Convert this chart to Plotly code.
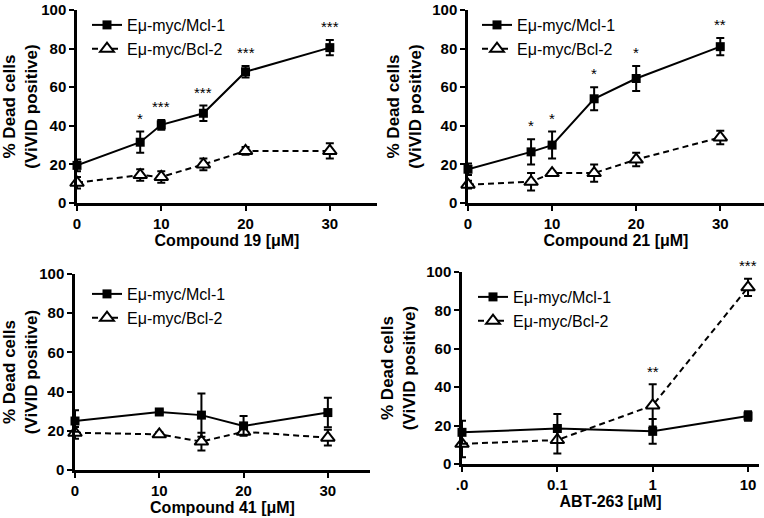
import math
import plotly.graph_objects as go

W, H = 764, 518

# ---------------- data ----------------
c19_x = [0, 7.5, 10, 15, 20, 30]
c19_mcl = [19.5, 31.5, 40.5, 46.5, 68, 80.5]
c19_mcl_err = [3, 5.5, 2.5, 4, 3, 4]
c19_bcl = [10.5, 14.5, 13.5, 20, 27, 27]
c19_bcl_err = [3, 3, 3, 3, 2, 4]
c19_stars = ["*", "***", "***", "***", "***"]
c19_star_x = [7.5, 10, 15, 20, 30]

c21_x = [0, 7.5, 10, 15, 20, 30]
c21_mcl = [17.5, 26.5, 30, 54, 64.5, 81]
c21_mcl_err = [3, 6.5, 7, 6, 6.5, 4.5]
c21_bcl = [9.5, 11, 15.5, 15.5, 22.5, 34]
c21_bcl_err = [2, 4.5, 1, 4.5, 3.5, 3.5]
c21_stars = ["*", "*", "*", "*", "**"]
c21_star_x = [7.5, 10, 15, 20, 30]

c41_x = [0, 10, 15, 20, 30]
c41_mcl = [25, 29.6, 28, 22.5, 29.3]
c41_mcl_err = [5.5, 1, 11, 5, 7.5]
c41_bcl = [19, 18.2, 14.5, 19.5, 16.5]
c41_bcl_err = [3, 1, 4.5, 1.5, 4]

abt_x = [0.01, 0.1, 1, 10]
abt_xlabels = [".0", "0.1", "1", "10"]
abt_mcl = [16.5, 18.5, 17, 25]
abt_mcl_err = [6, 7.5, 6.5, 2.5]
abt_bcl = [10.5, 12.5, 30.5, 92]
abt_bcl_err = [7, 7, 11, 4.5]
abt_stars = ["**", "***"]
abt_star_x = [1, 10]
abt_star_y = [42.5, 98]

series_names = ["Eμ-myc/Mcl-1", "Eμ-myc/Bcl-2"]
x_titles = ["Compound 19 [μM]", "Compound 21 [μM]", "Compound 41 [μM]", "ABT-263 [μM]"]
y_title = "% Dead cells<br>(ViVID positive)"
y_ticks = [0, 20, 40, 60, 80, 100]

FONT = "Liberation Sans, Arial, sans-serif"

fig = go.Figure()

panels = [
    (c19_x, c19_mcl, c19_mcl_err, c19_bcl, c19_bcl_err),
    (c21_x, c21_mcl, c21_mcl_err, c21_bcl, c21_bcl_err),
    (c41_x, c41_mcl, c41_mcl_err, c41_bcl, c41_bcl_err),
    (abt_x, abt_mcl, abt_mcl_err, abt_bcl, abt_bcl_err),
]

legend_names = ["legend", "legend2", "legend3", "legend4"]

for i, (xs, m, me, b, be) in enumerate(panels):
    ax = "" if i == 0 else str(i + 1)
    fig.add_trace(go.Scatter(
        x=xs, y=b, name=series_names[1], mode="lines+markers",
        xaxis="x" + ax, yaxis="y" + ax, legend=legend_names[i],
        line=dict(color="black", width=2, dash="6px,4px"),
        marker=dict(symbol="triangle-up", size=12, color="white",
                    line=dict(color="black", width=2)),
        error_y=dict(type="data", array=be, color="black", thickness=2, width=4),
        cliponaxis=False, legendrank=2,
    ))
    fig.add_trace(go.Scatter(
        x=xs, y=m, name=series_names[0], mode="lines+markers",
        xaxis="x" + ax, yaxis="y" + ax, legend=legend_names[i],
        line=dict(color="black", width=2),
        marker=dict(symbol="square", size=9, color="black"),
        error_y=dict(type="data", array=me, color="black", thickness=2, width=4),
        cliponaxis=False, legendrank=1,
    ))

# annotations (significance stars)
ann = []
def add_stars(xs, texts, yvals, ax, log=False):
    for x, t, y in zip(xs, texts, yvals):
        ann.append(dict(x=math.log10(x) if log else x, y=y, xref="x" + ax, yref="y" + ax,
                        text=t, showarrow=False, yanchor="bottom",
                        font=dict(family=FONT, size=15, color="#000000")))

def top_of(xs, ys, es, sel):
    out = []
    for s in sel:
        k = xs.index(s)
        out.append(ys[k] + es[k] + 1.5)
    return out

add_stars(c19_star_x, c19_stars, top_of(c19_x, c19_mcl, c19_mcl_err, c19_star_x), "")
add_stars(c21_star_x, c21_stars, top_of(c21_x, c21_mcl, c21_mcl_err, c21_star_x), "2")
add_stars(abt_star_x, abt_stars, abt_star_y, "4", log=True)

# domains in pixels: (x0, x1, ytop, ybottom)
doms = [(77, 377, 10, 203), (468, 764, 10, 203), (75, 370, 274, 470), (462, 759, 272, 464)]
xranges = [[0, 35.6], [0, 35.2], [0, 35.0], [-2, 1.115]]
leg_pos = [(87, 8), (477, 8), (87, 277), (473, 280)]

axis_common = dict(showline=True, linecolor="black", linewidth=2.5,
                   ticks="outside", ticklen=5, tickwidth=2, tickcolor="black",
                   showgrid=False, zeroline=False, automargin=False,
                   ticklabeloverflow="allow",
                   tickfont=dict(family=FONT, size=15, color="black", weight="bold"))

layout = dict(width=W, height=H, margin=dict(l=0, r=0, t=0, b=0, autoexpand=False),
              plot_bgcolor="white", paper_bgcolor="white", annotations=ann,
              font=dict(family=FONT, color="black"))

for i, (x0, x1, yt, yb) in enumerate(doms):
    ax = "" if i == 0 else str(i + 1)
    xa = dict(axis_common, domain=[x0 / W, x1 / W], anchor="y" + ax,
              range=xranges[i],
              title=dict(text=x_titles[i], standoff=5,
                         font=dict(family=FONT, size=16, color="black", weight="bold")))
    if i == 3:
        xa.update(type="log", tickvals=abt_x, ticktext=abt_xlabels)
    else:
        xa.update(tickvals=[0, 10, 20, 30])
    ya = dict(axis_common, domain=[1 - yb / H, 1 - yt / H], anchor="x" + ax,
              range=[0, 100], tickvals=y_ticks,
              title=dict(text=y_title, standoff=7,
                         font=dict(family=FONT, size=17, color="black", weight="bold")))
    layout["xaxis" + ax] = xa
    layout["yaxis" + ax] = ya
    lx, ly = leg_pos[i]
    layout[legend_names[i]] = dict(
        x=lx / W, y=1 - ly / H, xanchor="left", yanchor="top",
        bgcolor="rgba(0,0,0,0)", itemwidth=30, tracegroupgap=0,
        font=dict(family=FONT, size=16, color="black"))

fig.update_layout(**layout)
fig.write_html("out.html", config={"displayModeBar": False},
               post_script="document.body.style.margin='0';")
